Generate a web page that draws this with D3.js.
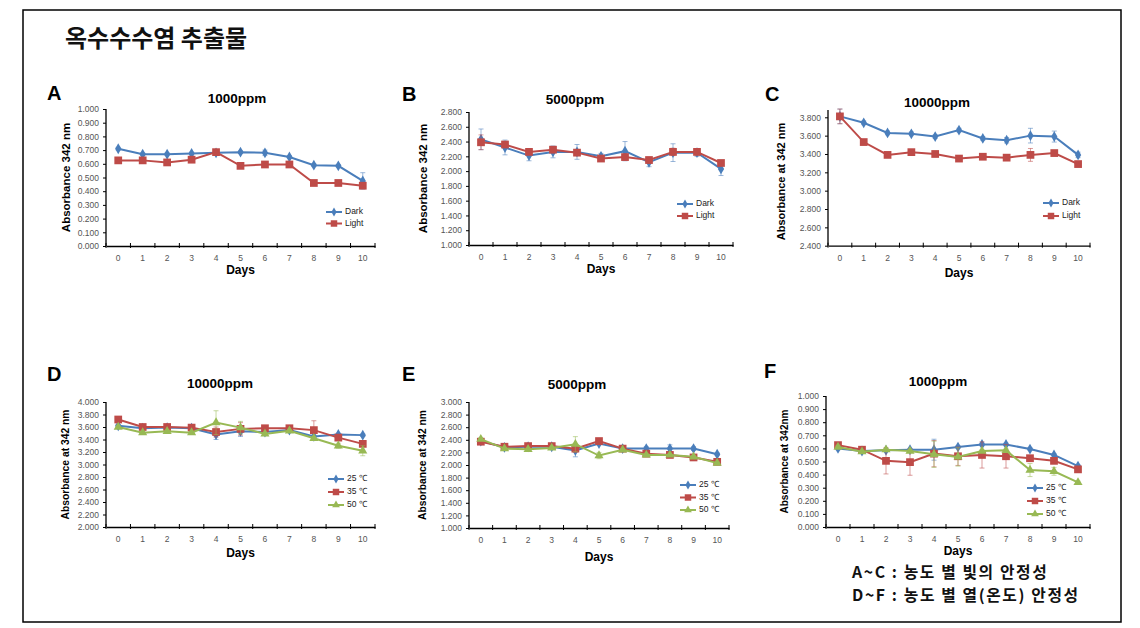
<!DOCTYPE html>
<html><head><meta charset="utf-8">
<script src="https://cdn.jsdelivr.net/npm/d3@7"></script>
<style>
html,body{margin:0;padding:0;background:#fff;}
svg{display:block;}
</style></head>
<body>
<svg id="c" width="1140" height="628"></svg>
<script>
// ---------- DATA ----------
const days = [0,1,2,3,4,5,6,7,8,9,10];

// A: 1000ppm light
const aDark  = [0.710,0.670,0.670,0.675,0.680,0.685,0.680,0.650,0.590,0.585,0.475];
const aLight = [0.625,0.625,0.610,0.630,0.685,0.585,0.595,0.595,0.460,0.460,0.440];
const aDarkErr  = [0.01,0.01,0.01,0.01,0.01,0.01,0.02,0.01,0.01,0.01,0.06];
const aLightErr = [0.01,0.01,0.01,0.01,0.01,0.01,0.01,0.01,0.01,0.01,0.02];

// B: 5000ppm light
const bDark  = [2.43,2.32,2.21,2.26,2.26,2.20,2.27,2.12,2.25,2.25,2.03];
const bLight = [2.39,2.36,2.26,2.29,2.25,2.17,2.19,2.15,2.26,2.26,2.11];
const bDarkErr  = [0.14,0.10,0.07,0.08,0.10,0.04,0.13,0.06,0.12,0.05,0.09];
const bLightErr = [0.10,0.04,0.04,0.04,0.04,0.03,0.04,0.04,0.05,0.04,0.03];

// C: 10000ppm light
const cDark  = [3.81,3.74,3.63,3.62,3.59,3.66,3.57,3.55,3.60,3.59,3.39];
const cLight = [3.81,3.53,3.39,3.42,3.40,3.35,3.37,3.36,3.39,3.41,3.29];
const cDarkErr  = [0.08,0.02,0.02,0.02,0.02,0.02,0.02,0.03,0.08,0.06,0.03];
const cLightErr = [0.08,0.02,0.02,0.02,0.02,0.02,0.02,0.02,0.07,0.02,0.02];

// D: 10000ppm temperature
const d25 = [3.62,3.58,3.59,3.58,3.48,3.53,3.52,3.55,3.45,3.48,3.47];
const d35 = [3.72,3.60,3.60,3.59,3.52,3.57,3.58,3.58,3.55,3.43,3.33];
const d50 = [3.60,3.51,3.53,3.51,3.67,3.59,3.49,3.54,3.42,3.30,3.22];
const d25Err = [0.02,0.02,0.02,0.02,0.08,0.08,0.02,0.02,0.02,0.02,0.02];
const d35Err = [0.03,0.02,0.02,0.02,0.08,0.10,0.02,0.02,0.15,0.03,0.02];
const d50Err = [0.02,0.02,0.02,0.02,0.19,0.10,0.02,0.02,0.03,0.04,0.08];

// E: 5000ppm temperature
const e25 = [2.38,2.28,2.29,2.29,2.23,2.34,2.26,2.26,2.26,2.26,2.17];
const e35 = [2.37,2.29,2.30,2.30,2.26,2.38,2.26,2.18,2.16,2.12,2.05];
const e50 = [2.41,2.26,2.25,2.27,2.33,2.15,2.24,2.16,2.16,2.13,2.03];
const e25Err = [0.02,0.02,0.02,0.02,0.10,0.02,0.02,0.03,0.06,0.03,0.02];
const e35Err = [0.02,0.02,0.02,0.02,0.05,0.02,0.02,0.02,0.02,0.02,0.02];
const e50Err = [0.02,0.02,0.02,0.02,0.12,0.05,0.02,0.02,0.02,0.02,0.02];

// F: 1000ppm temperature
const f25 = [0.600,0.580,0.585,0.590,0.590,0.610,0.630,0.630,0.595,0.550,0.465];
const f35 = [0.625,0.590,0.505,0.495,0.560,0.540,0.550,0.540,0.525,0.505,0.440];
const f50 = [0.610,0.575,0.590,0.580,0.555,0.535,0.580,0.585,0.435,0.425,0.340];
const f25Err = [0.01,0.01,0.01,0.01,0.08,0.01,0.01,0.01,0.01,0.01,0.01];
const f35Err = [0.01,0.01,0.10,0.10,0.10,0.07,0.10,0.09,0.01,0.01,0.01];
const f50Err = [0.01,0.01,0.01,0.01,0.10,0.07,0.01,0.01,0.05,0.03,0.01];

const lightLabels = ["Dark","Light"];
const tempLabels = ["25 \u2103","35 \u2103","50 \u2103"];
const panelLetters = ["A","B","C","D","E","F"];
const panelTitles = ["1000ppm","5000ppm","10000ppm","10000ppm","5000ppm","1000ppm"];
const yTitles = ["Absorbance 342 nm","Absorbance 342 nm","Absorbance at 342 nm","Absorbance at 342 nm","Absorbance at 342 nm","Absorbance at 342nm"];
const yTicksA = [0,0.1,0.2,0.3,0.4,0.5,0.6,0.7,0.8,0.9,1.0];
const yTicksB = [1.0,1.2,1.4,1.6,1.8,2.0,2.2,2.4,2.6,2.8];
const yTicksC = [2.4,2.6,2.8,3.0,3.2,3.4,3.6,3.8];
const yTicksD = [2.0,2.2,2.4,2.6,2.8,3.0,3.2,3.4,3.6,3.8,4.0];
const yTicksE = [1.0,1.2,1.4,1.6,1.8,2.0,2.2,2.4,2.6,2.8,3.0];
const yTicksF = [0,0.1,0.2,0.3,0.4,0.5,0.6,0.7,0.8,0.9,1.0];
const mainTitle = "옥수수수염 추출물";
const noteLines = ["A~C : 농도 별 빛의 안정성","D~F : 농도 별 열(온도) 안정성"];

// ---------- STYLES ----------
const BLUE = "#4A7EBB", RED = "#BE4B48", GREEN = "#98B954";
const styles = [
  {color:BLUE, sym:d3.symbolDiamond, size:34},
  {color:RED, sym:d3.symbolSquare, size:60},
  {color:GREEN, sym:d3.symbolTriangle, size:36}
];

const svg = d3.select("#c");
svg.append("rect").attr("width",1140).attr("height",628).attr("fill","#fff");
svg.append("rect").attr("x",23).attr("y",10).attr("width",1098).attr("height",612)
  .attr("fill","none").attr("stroke","#000").attr("stroke-width",1.5);

svg.append("text").attr("x",65).attr("y",47)
  .attr("font-family","'Noto Sans CJK KR', sans-serif").attr("font-weight","bold")
  .attr("font-size",24).attr("fill","#111").text(mainTitle);

const FONT = "'Liberation Sans', Arial, sans-serif";

function panel(cfg){
  const g = svg.append("g");
  const x = d3.scaleBand().domain(days).range([cfg.x0,cfg.x1]).padding(0);
  const y = d3.scaleLinear().domain(cfg.domain).range([cfg.yb,cfg.yt]);
  const cx = d => x(d)+x.bandwidth()/2;

  // y axis
  const yAxis = d3.axisLeft(y).tickValues(cfg.ticks).tickFormat(d3.format(".3f")).tickSize(3).tickPadding(4);
  const ya = g.append("g").attr("transform",`translate(${cfg.x0},0)`).call(yAxis);
  ya.select(".domain").attr("stroke","#000").attr("stroke-width",1.3)
    .attr("d",`M0,${cfg.yb}V${cfg.ytop||cfg.yt}`);
  ya.selectAll(".tick line").attr("stroke","#000");
  ya.selectAll(".tick text").attr("font-family",FONT).attr("font-size",8.5).attr("fill","#555");

  // x axis
  const xAxis = d3.axisBottom(x).tickSize(0).tickPadding(9);
  const xa = g.append("g").attr("transform",`translate(0,${cfg.yb})`).call(xAxis);
  xa.select(".domain").attr("stroke","#000").attr("stroke-width",1.3);
  xa.selectAll(".tick text").attr("font-family",FONT).attr("font-size",8.5).attr("fill","#555");
  const bounds = days.map(d=>x(d)).concat([cfg.x1]);
  g.selectAll(".xt").data(bounds).join("line").attr("class","xt")
    .attr("x1",d=>d).attr("x2",d=>d).attr("y1",cfg.yb-3).attr("y2",cfg.yb+2)
    .attr("stroke","#000").attr("stroke-width",1);

  // labels
  g.append("text").attr("x",cfg.lx).attr("y",cfg.ly).attr("font-family",FONT)
    .attr("font-weight","bold").attr("font-size",20).attr("fill","#000").text(cfg.letter);
  g.append("text").attr("x",cfg.tx).attr("y",cfg.ty).attr("text-anchor","middle").attr("font-family",FONT)
    .attr("font-weight","bold").attr("font-size",13.5).attr("fill","#000").text(cfg.title);
  g.append("text").attr("transform",`translate(${cfg.ytx},${(cfg.yb+cfg.yt)/2}) rotate(-90)`)
    .attr("text-anchor","middle").attr("dominant-baseline","middle").attr("font-family",FONT)
    .attr("font-weight","bold").attr("font-size",cfg.ytSize).attr("fill","#000").text(cfg.ytitle);
  g.append("text").attr("x",(cfg.x0+cfg.x1)/2).attr("y",cfg.dy).attr("text-anchor","middle").attr("font-family",FONT)
    .attr("font-weight","bold").attr("font-size",12).attr("fill","#000").text("Days");

  // series
  cfg.series.forEach((vals,i)=>{
    const st = styles[i];
    const err = cfg.errs[i];
    const eg = g.append("g");
    days.forEach((d,k)=>{
      const px = cx(d);
      const y1 = y(vals[k]+err[k]), y2 = y(vals[k]-err[k]);
      eg.append("line").attr("x1",px).attr("x2",px).attr("y1",y1).attr("y2",y2)
        .attr("stroke",st.color).attr("stroke-opacity",0.55).attr("stroke-width",1);
      [y1,y2].forEach(yy=>eg.append("line").attr("x1",px-2.5).attr("x2",px+2.5).attr("y1",yy).attr("y2",yy)
        .attr("stroke",st.color).attr("stroke-opacity",0.55).attr("stroke-width",1));
    });
    g.append("path").datum(vals).attr("fill","none").attr("stroke",st.color).attr("stroke-width",2)
      .attr("d",d3.line().x((v,k)=>cx(days[k])).y(v=>y(v)));
    g.selectAll(null).data(vals).join("path")
      .attr("transform",(v,k)=>`translate(${cx(days[k])},${y(v)})`)
      .attr("d",d3.symbol().type(st.sym).size(st.size)).attr("fill",st.color);
  });

  // legend
  cfg.legend.forEach((lab,i)=>{
    const st = styles[i];
    const yy = cfg.legY + i*cfg.legDy;
    g.append("line").attr("x1",cfg.legX).attr("x2",cfg.legX+16).attr("y1",yy).attr("y2",yy)
      .attr("stroke",st.color).attr("stroke-width",2);
    g.append("path").attr("transform",`translate(${cfg.legX+8},${yy})`)
      .attr("d",d3.symbol().type(st.sym).size(st.size*0.7)).attr("fill",st.color);
    g.append("text").attr("x",cfg.legX+19).attr("y",yy).attr("dominant-baseline","middle")
      .attr("font-family",FONT).attr("font-size",8.5).attr("fill","#222").text(lab);
  });
}

panel({letter:panelLetters[0],title:panelTitles[0],ytitle:yTitles[0],ytSize:11.5,
  x0:106,x1:375,yt:109,yb:246,domain:[0,1],ticks:yTicksA,
  lx:47,ly:100,tx:237,ty:103,ytx:67,dy:274,
  series:[aDark,aLight],errs:[aDarkErr,aLightErr],legend:lightLabels,legX:326,legY:212,legDy:11.5});
panel({letter:panelLetters[1],title:panelTitles[1],ytitle:yTitles[1],ytSize:11.5,
  x0:469,x1:733,yt:112,yb:245,domain:[1,2.8],ticks:yTicksB,
  lx:402,ly:101,tx:575,ty:104,ytx:424,dy:273,
  series:[bDark,bLight],errs:[bDarkErr,bLightErr],legend:lightLabels,legX:677,legY:204,legDy:12});
panel({letter:panelLetters[2],title:panelTitles[2],ytitle:yTitles[2],ytSize:11,
  x0:828,x1:1090,yt:117.3,ytop:110,yb:245.7,domain:[2.4,3.8],ticks:yTicksC,
  lx:765,ly:101,tx:937,ty:107,ytx:782,dy:277,
  series:[cDark,cLight],errs:[cDarkErr,cLightErr],legend:lightLabels,legX:1043,legY:203,legDy:13});
panel({letter:panelLetters[3],title:panelTitles[3],ytitle:yTitles[3],ytSize:10.3,
  x0:106,x1:375,yt:402,yb:527,domain:[2,4],ticks:yTicksD,
  lx:47,ly:381,tx:220,ty:388,ytx:66,dy:557,
  series:[d25,d35,d50],errs:[d25Err,d35Err,d50Err],legend:tempLabels,legX:328,legY:479,legDy:13});
panel({letter:panelLetters[4],title:panelTitles[4],ytitle:yTitles[4],ytSize:10.3,
  x0:469,x1:729,yt:402,yb:528,domain:[1,3],ticks:yTicksE,
  lx:402,ly:381,tx:577,ty:389,ytx:423,dy:561,
  series:[e25,e35,e50],errs:[e25Err,e35Err,e50Err],legend:tempLabels,legX:680,legY:485,legDy:12.5});
panel({letter:panelLetters[5],title:panelTitles[5],ytitle:yTitles[5],ytSize:10,
  x0:826,x1:1090,yt:396,yb:527,domain:[0,1],ticks:yTicksF,
  lx:764,ly:378,tx:938,ty:386,ytx:785,dy:555,
  series:[f25,f35,f50],errs:[f25Err,f35Err,f50Err],legend:tempLabels,legX:1027,legY:488,legDy:13});

// notes
noteLines.forEach((t,i)=>{
  svg.append("text").attr("x",852).attr("y",578+i*23)
    .attr("font-family","'Noto Sans CJK KR', sans-serif").attr("font-weight","bold")
    .attr("font-size",15.8).attr("letter-spacing",1.6).attr("fill","#111").text(t);
});
</script>
</body></html>
